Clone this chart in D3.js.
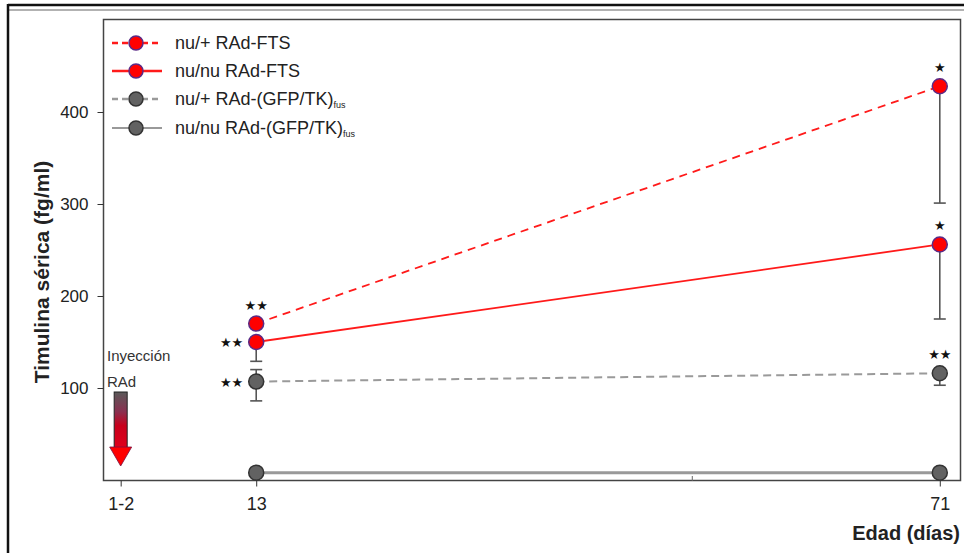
<!DOCTYPE html>
<html>
<head>
<meta charset="utf-8">
<script src="https://cdn.jsdelivr.net/npm/d3@7"></script>
<style>
  body { margin: 0; background: #fff; }
  text { font-family: "Liberation Sans", Arial, sans-serif; }
</style>
</head>
<body>
<svg id="canvas" width="964" height="553"></svg>
<script>
// days on the x axis (1-2 is drawn at 1.5)
let days = [13, 71];
let xTickValues = [1.5, 13, 71];
let xTickLabels = ['1-2', '13', '71'];
let yTickValues = [100, 200, 300, 400];

// series (fg/ml)
let seriesNames = ['nu/+ RAd-FTS', 'nu/nu RAd-FTS', 'nu/+ RAd-(GFP/TK)', 'nu/nu RAd-(GFP/TK)'];
let seriesSub = ['', '', 'fus', 'fus'];
let nuPlusFTS = [170, 428];
let nuNuFTS = [150, 256];
let nuPlusGFP = [107, 116];
let nuNuGFP = [8, 8];

// error bar ends
let nuPlusFTSLow = [170, 301];
let nuPlusFTSHigh = [170, 428];
let nuNuFTSLow = [129, 175];
let nuNuFTSHigh = [150, 256];
let nuPlusGFPLow = [86, 103];
let nuPlusGFPHigh = [120, 116];

// significance marks: series index, day index, text, where
let marks = [
    [0, 0, '★★', 'above'],
    [1, 0, '★★', 'left'],
    [2, 0, '★★', 'left'],
    [0, 1, '★', 'above'],
    [1, 1, '★', 'above'],
    [2, 1, '★★', 'above']
];

let canvas = d3.select('#canvas');

let x = d3.scaleLinear().domain([0, 72.8]).range([103, 961]);
let y = d3.scaleLinear().domain([0, 500]).range([480, 20]);

// outer frame
canvas.append('line').attr('x1', 8).attr('x2', 964).attr('y1', 5).attr('y2', 5)
    .attr('stroke', '#111').attr('stroke-width', 2.5);
canvas.append('line').attr('x1', 9).attr('x2', 964).attr('y1', 10).attr('y2', 10)
    .attr('stroke', '#999').attr('stroke-width', 1.5);
canvas.append('line').attr('x1', 8).attr('x2', 8).attr('y1', 4).attr('y2', 553)
    .attr('stroke', '#111').attr('stroke-width', 2.5);

// plot box
canvas.append('rect')
    .attr('x', 103.5).attr('y', 19.5)
    .attr('width', 857).attr('height', 461)
    .attr('fill', 'none').attr('stroke', '#444').attr('stroke-width', 1.5);

// y axis
let yAxis = d3.axisLeft(y).tickValues(yTickValues).tickSize(6).tickPadding(9);
let gy = canvas.append('g').attr('transform', 'translate(103.5,0)').call(yAxis);
gy.select('.domain').remove();
gy.selectAll('text').style('font-size', '17px').attr('fill', '#222')
    .style('font-family', '"Liberation Sans", Arial, sans-serif');
gy.selectAll('line').attr('stroke', '#333');

// x axis
let xAxis = d3.axisBottom(x).tickValues(xTickValues)
    .tickFormat((d, i) => xTickLabels[i]).tickSize(6).tickPadding(11);
let gx = canvas.append('g').attr('transform', 'translate(0,480.5)').call(xAxis);
gx.select('.domain').remove();
gx.selectAll('text').style('font-size', '18px').attr('fill', '#222')
    .style('font-family', '"Liberation Sans", Arial, sans-serif');
gx.selectAll('line').attr('stroke', '#333');
// small inner tick
canvas.append('line').attr('x1', x(50)).attr('x2', x(50)).attr('y1', 476).attr('y2', 481)
    .attr('stroke', '#666').attr('stroke-width', 1);

// axis titles
canvas.append('text')
    .attr('transform', 'translate(49,272) rotate(-90)')
    .attr('text-anchor', 'middle')
    .style('font-size', '21px').style('font-weight', 'bold').attr('fill', '#222')
    .text('Timulina sérica (fg/ml)');
canvas.append('text')
    .attr('x', 960).attr('y', 540)
    .attr('text-anchor', 'end')
    .style('font-size', '20px').style('font-weight', 'bold').attr('fill', '#222')
    .text('Edad (días)');

// injection note
canvas.append('text').attr('x', 107).attr('y', 361)
    .style('font-size', '15px').attr('fill', '#333').text('Inyección');
canvas.append('text').attr('x', 107).attr('y', 387)
    .style('font-size', '15px').attr('fill', '#333').text('RAd');

let defs = canvas.append('defs');
let grad = defs.append('linearGradient').attr('id', 'arrowGrad')
    .attr('x1', 0).attr('x2', 0).attr('y1', 0).attr('y2', 1);
grad.append('stop').attr('offset', '0%').attr('stop-color', '#5a5a5a');
grad.append('stop').attr('offset', '35%').attr('stop-color', '#8a3050');
grad.append('stop').attr('offset', '60%').attr('stop-color', '#c8001c');
grad.append('stop').attr('offset', '100%').attr('stop-color', '#e0001a');

let ax = x(1.5);
canvas.append('rect')
    .attr('x', ax - 6.5).attr('y', 392).attr('width', 13).attr('height', 56)
    .attr('fill', 'url(#arrowGrad)').attr('stroke', '#222').attr('stroke-width', 1);
canvas.append('path')
    .attr('d', `M${ax - 11},447 L${ax + 11},447 L${ax},466 Z`)
    .attr('fill', '#ff0000').attr('stroke', '#7a1040').attr('stroke-width', 0.8);

// series definitions
let series = [
    {vals: nuPlusFTS, low: nuPlusFTSLow, high: nuPlusFTSHigh, line: '#ff1a1a', dash: '8,6', width: 1.8, fill: '#ff0000', stroke: '#5b2a86'},
    {vals: nuNuFTS, low: nuNuFTSLow, high: nuNuFTSHigh, line: '#ff1a1a', dash: null, width: 1.8, fill: '#ff0000', stroke: '#5b2a86'},
    {vals: nuPlusGFP, low: nuPlusGFPLow, high: nuPlusGFPHigh, line: '#9a9a9a', dash: '8,5', width: 2, fill: '#626262', stroke: '#333'},
    {vals: nuNuGFP, low: null, high: null, line: '#999', dash: null, width: 3, fill: '#626262', stroke: '#333'}
];

let line = d3.line().x((d, i) => x(days[i])).y(d => y(d));

// error bars
series.forEach(s => {
    if (!s.low) return;
    days.forEach((d, i) => {
        let g = canvas.append('g').attr('stroke', '#555').attr('stroke-width', 1.6);
        if (s.low[i] < s.vals[i]) {
            g.append('line').attr('x1', x(d)).attr('x2', x(d)).attr('y1', y(s.vals[i])).attr('y2', y(s.low[i]));
            g.append('line').attr('x1', x(d) - 6).attr('x2', x(d) + 6).attr('y1', y(s.low[i])).attr('y2', y(s.low[i]));
        }
        if (s.high[i] > s.vals[i]) {
            g.append('line').attr('x1', x(d)).attr('x2', x(d)).attr('y1', y(s.vals[i])).attr('y2', y(s.high[i]));
            g.append('line').attr('x1', x(d) - 6).attr('x2', x(d) + 6).attr('y1', y(s.high[i])).attr('y2', y(s.high[i]));
        }
    });
});

// lines
series.forEach(s => {
    canvas.append('path')
        .attr('d', line(s.vals))
        .attr('fill', 'none')
        .attr('stroke', s.line)
        .attr('stroke-width', s.width)
        .attr('stroke-dasharray', s.dash);
});

// points
series.forEach(s => {
    canvas.selectAll(null)
        .data(s.vals)
        .enter()
        .append('circle')
        .attr('cx', (d, i) => x(days[i]))
        .attr('cy', d => y(d))
        .attr('r', 7.5)
        .attr('fill', s.fill)
        .attr('stroke', s.stroke)
        .attr('stroke-width', 1.5);
});

// significance marks
marks.forEach(m => {
    let s = series[m[0]];
    let cx = x(days[m[1]]);
    let cy = y(s.vals[m[1]]);
    canvas.append('text')
        .attr('x', m[3] === 'left' ? cx - 13 : cx)
        .attr('y', m[3] === 'left' ? cy + 5 : cy - 14)
        .attr('text-anchor', m[3] === 'left' ? 'end' : 'middle')
        .style('font-family', '"DejaVu Sans", sans-serif')
        .style('font-size', '13px').attr('fill', '#111')
        .text(m[2]);
});

// legend
let legendY = [43, 71, 99, 128];
seriesNames.forEach((name, i) => {
    let s = series[i];
    let ly = legendY[i];
    canvas.append('line')
        .attr('x1', 112).attr('x2', 162).attr('y1', ly).attr('y2', ly)
        .attr('stroke', s.line).attr('stroke-width', i === 3 ? 2 : 2.5)
        .attr('stroke-dasharray', s.dash ? '6,4' : null);
    canvas.append('circle')
        .attr('cx', 136).attr('cy', ly).attr('r', 7)
        .attr('fill', s.fill).attr('stroke', s.stroke).attr('stroke-width', 1.5);
    let t = canvas.append('text')
        .attr('x', 175).attr('y', ly + 6)
        .style('font-size', '18px').attr('fill', '#222');
    t.append('tspan').text(name);
    if (seriesSub[i]) {
        t.append('tspan').attr('dy', 3).style('font-size', '9px').text(seriesSub[i]);
    }
});
</script>
</body>
</html>
